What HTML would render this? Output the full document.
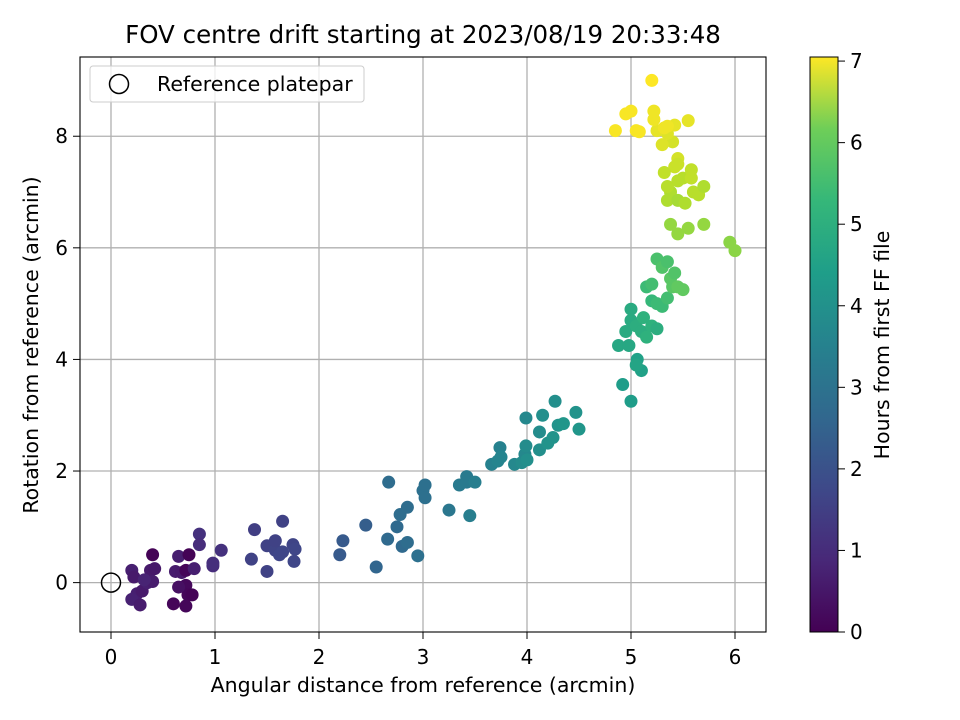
<!DOCTYPE html>
<html><head><meta charset="utf-8"><style>
html,body{margin:0;padding:0;background:#fff}
svg{display:block;font-family:"DejaVu Sans","Liberation Sans",sans-serif}
</style></head><body>
<svg id="chart" width="960" height="720" viewBox="0 0 960 720">
<defs>
<linearGradient id="vir" x1="0" y1="1" x2="0" y2="0">
<stop offset="0" stop-color="#440154"/><stop offset="0.125" stop-color="#482878"/><stop offset="0.25" stop-color="#3e4989"/><stop offset="0.375" stop-color="#31688e"/><stop offset="0.5" stop-color="#26828e"/><stop offset="0.625" stop-color="#1f9e89"/><stop offset="0.75" stop-color="#35b779"/><stop offset="0.875" stop-color="#6ece58"/><stop offset="1" stop-color="#fde725"/>
</linearGradient>
</defs>
<text x="423" y="43" text-anchor="middle" font-size="24.5">FOV centre drift starting at 2023/08/19 20:33:48</text>
<g id="grid"></g>
<g id="points"></g>
<rect x="80" y="57" width="686" height="575" fill="none" stroke="#000" stroke-width="1.1"/>
<g id="ticks"></g>
<text x="423" y="692" text-anchor="middle" font-size="20.5">Angular distance from reference (arcmin)</text>
<text transform="translate(38,345) rotate(-90)" text-anchor="middle" font-size="20.5">Rotation from reference (arcmin)</text>
<g>
<rect x="90" y="66" width="274" height="36" rx="3" fill="#fff" fill-opacity="0.8" stroke="#ccc"/>
<circle cx="119" cy="84" r="9.5" fill="none" stroke="#000" stroke-width="1.5"/>
<text x="157" y="91" font-size="20.5">Reference platepar</text>
</g>
<rect x="810" y="57" width="28" height="575" fill="url(#vir)" stroke="#000" stroke-width="1"/>
<g id="cbticks"></g>
<text transform="translate(889,345) rotate(-90)" text-anchor="middle" font-size="20.5">Hours from first FF file</text>
</svg>
<script>
const xTicks=[0,1,2,3,4,5,6];
const yTicks=[0,2,4,6,8];
const cTicks=[0,1,2,3,4,5,6,7];
const px=[0.4,0.2,0.22,0.25,0.2,0.28,0.3,0.35,0.38,0.42,0.4,0.32,0.6,0.65,0.62,0.68,0.72,0.75,0.72,0.74,0.72,0.78,0.65,0.8,0.85,0.85,0.98,0.98,1.06,
1.38,1.35,1.5,1.5,1.58,1.58,1.62,1.65,1.65,1.75,1.77,1.76,
2.2,2.23,2.45,2.55,2.67,2.66,2.75,2.78,2.8,2.85,2.85,2.95,3.0,3.02,3.02,
3.25,3.35,3.42,3.42,3.45,3.5,3.66,3.72,3.74,3.75,3.88,3.95,3.98,3.99,3.99,4.0,4.12,4.12,4.15,4.2,4.25,4.27,4.3,4.35,4.47,4.5,
4.92,5.0,5.1,5.06,5.05,4.88,4.98,4.95,5.0,5.0,5.05,5.1,5.12,5.15,5.2,5.25,5.2,5.15,5.2,5.25,5.3,5.35,5.25,5.3,5.35,5.38,5.4,5.45,5.5,5.42,
5.95,6.0,5.38,5.45,5.55,5.7,5.35,5.38,5.45,5.52,5.35,5.45,5.5,5.58,5.6,5.65,5.7,5.58,5.42,5.32,5.45,5.45,
5.4,5.35,5.3,5.25,5.42,5.35,5.55,5.22,5.22,4.85,4.95,5.0,5.05,5.08,5.2,5.32];
const py=[0.5,0.22,0.1,-0.2,-0.3,-0.4,-0.15,0.0,0.22,0.25,0.02,0.05,-0.38,0.47,0.2,0.18,0.22,0.5,-0.05,-0.22,-0.42,-0.22,-0.08,0.25,0.87,0.68,0.3,0.35,0.58,
0.95,0.42,0.2,0.66,0.58,0.75,0.5,1.1,0.55,0.68,0.6,0.38,
0.5,0.75,1.03,0.28,1.8,0.78,1.0,1.22,0.65,1.35,0.72,0.48,1.65,1.52,1.75,
1.3,1.75,1.9,1.8,1.2,1.8,2.12,2.18,2.42,2.25,2.12,2.15,2.3,2.45,2.95,2.2,2.38,2.7,3.0,2.5,2.6,3.25,2.82,2.85,3.05,2.75,
3.55,3.25,3.8,4.0,3.9,4.25,4.25,4.5,4.7,4.9,4.6,4.5,4.75,4.4,4.6,4.55,5.05,5.3,5.35,5.0,4.95,5.1,5.8,5.65,5.75,5.45,5.3,5.3,5.25,5.55,
6.1,5.95,6.42,6.25,6.35,6.42,6.85,7.0,6.85,6.8,7.1,7.2,7.25,7.25,7.0,6.95,7.1,7.4,7.45,7.35,7.6,7.5,
7.9,8.05,7.85,8.1,8.2,8.18,8.28,8.3,8.45,8.1,8.4,8.45,8.1,8.08,9.0,8.15];
const ph=[0.05,0.6,0.5,0.6,0.65,0.55,0.5,0.6,0.5,0.45,0.55,0.7,0.1,0.6,0.55,0.5,0.1,0.05,0.15,0.1,0.1,0.05,0.3,0.6,1.0,0.9,0.9,0.95,1.0,
1.3,1.4,1.4,1.4,1.45,1.4,1.5,1.4,1.5,1.45,1.5,1.5,
2.0,2.0,2.1,2.3,2.5,2.4,2.4,2.5,2.4,2.5,2.5,2.6,2.6,2.6,2.6,
2.8,2.9,2.9,2.9,3.0,3.0,3.1,3.2,3.1,3.2,3.3,3.4,3.3,3.4,3.3,3.5,3.5,3.4,3.5,3.6,3.6,3.5,3.6,3.7,3.6,3.7,
3.9,3.9,4.0,4.0,4.1,4.2,4.2,4.3,4.3,4.3,4.4,4.4,4.5,4.5,4.5,4.4,4.7,4.8,4.9,4.8,4.8,4.9,5.0,5.1,5.0,5.2,5.2,5.3,5.3,5.1,
5.8,5.8,5.9,5.9,5.9,5.9,6.2,6.2,6.1,6.2,6.3,6.3,6.3,6.4,6.3,6.3,6.2,6.4,6.5,6.4,6.6,6.5,
6.6,6.7,6.7,6.8,6.8,6.9,6.8,6.9,6.9,7.0,7.0,7.0,7.0,7.0,7.05,6.9];
const NS="http://www.w3.org/2000/svg";
const X0=80,X1=766,Y0=57,Y1=632,xmin=-0.298,xmax=6.298,ymin=-0.885,ymax=9.42,cmax=7.05;
const sx=v=>X0+(v-xmin)/(xmax-xmin)*(X1-X0);
const sy=v=>Y1-(v-ymin)/(ymax-ymin)*(Y1-Y0);
const sc=v=>632-v/cmax*575;
const vir=[[68,1,84],[72,40,120],[62,73,137],[49,104,142],[38,130,142],[31,158,137],[53,183,121],[110,206,88],[181,222,43],[253,231,37]];
function col(h){let t=Math.max(0,Math.min(1,h/cmax))*(vir.length-1);let i=Math.min(Math.floor(t),vir.length-2),f=t-i;
const c=vir[i].map((a,k)=>Math.round(a+(vir[i+1][k]-a)*f));return `rgb(${c})`;}
function mk(tag,attrs,parent){const e=document.createElementNS(NS,tag);for(const k in attrs)e.setAttribute(k,attrs[k]);parent.appendChild(e);return e;}
const grid=document.getElementById('grid'),ticks=document.getElementById('ticks'),pts=document.getElementById('points'),cb=document.getElementById('cbticks');
xTicks.forEach(v=>{const x=sx(v);
const g=mk('line',{x1:x,x2:x,y1:Y0,y2:Y1,stroke:'#b0b0b0','stroke-width':1.3},grid);


const t=mk('line',{x1:x,x2:x,y1:Y1,y2:Y1+7,stroke:'#000'},ticks);


const l=mk('text',{x:x,y:Y1+32,'text-anchor':'middle','font-size':20},ticks);l.textContent=v;

});
yTicks.forEach(v=>{const y=sy(v);
const g=mk('line',{x1:X0,x2:X1,y1:y,y2:y,stroke:'#b0b0b0','stroke-width':1.3},grid);


const t=mk('line',{x1:X0-7,x2:X0,y1:y,y2:y,stroke:'#000'},ticks);


const l=mk('text',{x:X0-12,y:y+7,'text-anchor':'end','font-size':20},ticks);l.textContent=v;

});
cTicks.forEach(v=>{const y=sc(v);
const t=mk('line',{x1:838,x2:845,y1:y,y2:y,stroke:'#000'},cb);


const l=mk('text',{x:850,y:y+7,'font-size':20},cb);l.textContent=v;

});
px.forEach((v,i)=>{const c=mk('circle',{cx:sx(v),cy:sy(py[i]),r:6.5,fill:col(ph[i])},pts);

});
const r=mk('circle',{cx:sx(0),cy:sy(0),r:9.5,fill:'none',stroke:'#000','stroke-width':1.5},pts);


</script>
</body></html>
